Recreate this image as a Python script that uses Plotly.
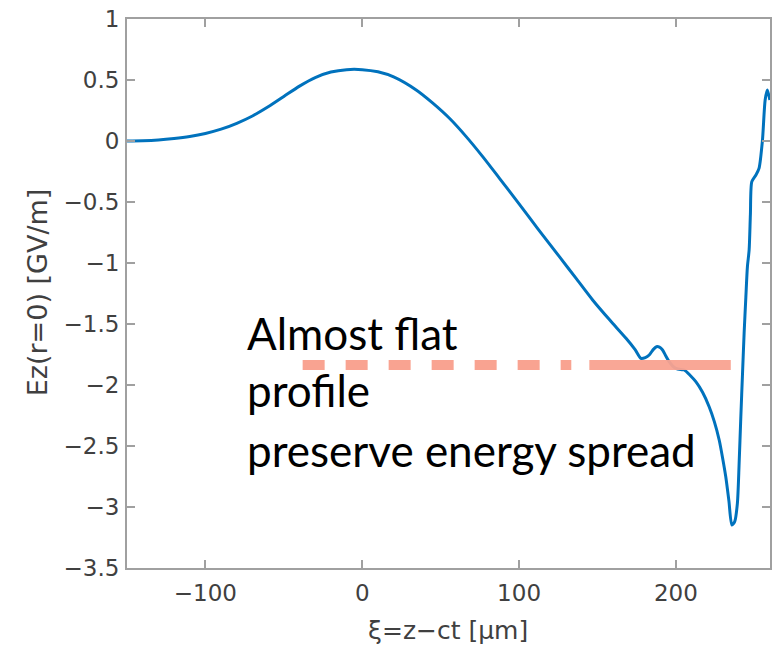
import plotly.graph_objects as go

# Curve Ez(r=0) vs xi
xi_um = [-150, -140, -130, -120, -110, -100, -90, -80, -70, -60, -50, -40, -30, -20, -10,
         0, 10, 20, 34.4, 45, 55.6, 66, 76.8, 87.5, 100, 112, 125.7, 136, 146.9, 158, 168.2,
         174, 177.7, 180.5, 183, 185.5, 187.6, 189.5, 191.5, 193.5, 195.7, 198, 200, 203, 205.3,
         209, 212.7, 217, 221.2, 224.5, 227.6, 229.8, 231.8, 233.8, 235.7, 237.5, 239.2, 240.3,
         241.4, 242.5, 243.5, 244.6, 245.6, 246.7, 247.5, 248.4, 251, 253, 255.2, 256.9, 258.3, 259.9]
ez_gv = [0.0, 0.002, 0.008, 0.02, 0.037, 0.062, 0.097, 0.145, 0.205, 0.28, 0.365, 0.45, 0.52, 0.565, 0.585,
         0.585, 0.567, 0.525, 0.418, 0.31, 0.186, 0.04, -0.128, -0.306, -0.515, -0.72, -0.948, -1.12,
         -1.303, -1.47, -1.617, -1.71, -1.781, -1.775, -1.754, -1.71, -1.686, -1.69, -1.713, -1.76,
         -1.809, -1.845, -1.863, -1.873, -1.877, -1.92, -1.973, -2.06, -2.178, -2.3, -2.451, -2.6,
         -2.752, -2.95, -3.148, -3.12, -2.97, -2.65, -2.26, -1.9, -1.576, -1.28, -1.03, -0.893, -0.6,
         -0.333, -0.279, -0.224, 0.008, 0.336, 0.418, 0.336]

# Annotation line ("almost flat" level)
flat_level = -1.836
flat_dash_x = [-38, 133.3]
flat_solid_x = [144.8, 235]
note_lines = ["Almost flat", "profile", "preserve energy spread"]

x_ticks = [-100, 0, 100, 200]
y_ticks = [1, 0.5, 0, -0.5, -1, -1.5, -2, -2.5, -3, -3.5]

W, H = 776, 647
L, R, T, B = 127, 4, 19, 79
pw, ph = W - L - R, H - T - B

fig = go.Figure()
fig.add_trace(go.Scatter(x=xi_um, y=ez_gv, mode="lines",
                         line=dict(color="#0072BD", width=3, shape="spline", smoothing=0.7),
                         hoverinfo="skip", showlegend=False))

fig.add_trace(go.Scatter(x=flat_dash_x, y=[flat_level] * 2, mode="lines",
                         line=dict(color="#F9A391", width=10, dash="22px,21px"),
                         showlegend=False, hoverinfo="skip"))
fig.add_trace(go.Scatter(x=flat_solid_x, y=[flat_level] * 2, mode="lines",
                         line=dict(color="#F9A391", width=10),
                         opacity=0.95, showlegend=False, hoverinfo="skip"))

axis_font = "DejaVu Sans, sans-serif"
tick_font = dict(family=axis_font, size=23, color="#404040")
axis_common = dict(showgrid=False, zeroline=False, showline=True, linecolor="#a0a0a0",
                   linewidth=2, mirror="ticks", ticks="inside", ticklen=8, tickcolor="#a0a0a0",
                   tickwidth=1.5, tickfont=tick_font)

fig.update_xaxes(range=[-150, 260], tickvals=x_ticks, ticklabelstandoff=3, **axis_common)
fig.update_yaxes(range=[-3.5, 1], tickvals=y_ticks, ticklabelstandoff=1,
                 ticktext=[("%g" % v).replace("-", "\u2212") for v in y_ticks], **axis_common)

note_y = [-1.57, -2.045, -2.53]
for txt, yy in zip(note_lines, note_y):
    fig.add_annotation(x=-74.8, y=yy, xref="x", yref="y", text=txt, showarrow=False,
                       xanchor="left", yanchor="middle",
                       font=dict(family="Lato, Open Sans, sans-serif", size=44, color="#000000"))

fig.add_annotation(x=(37 - L) / pw, y=(H - B - 292) / ph, xref="paper", yref="paper",
                   xanchor="center", yanchor="middle",
                   text="Ez(r=0) [GV/m]", showarrow=False, textangle=-90,
                   font=dict(family=axis_font, size=27, color="#404040"))
fig.add_annotation(x=(449 - L) / pw, y=(H - B - 630) / ph, xref="paper", yref="paper",
                   xanchor="center", yanchor="middle",
                   text="\u03be=z\u2212ct [\u03bcm]", showarrow=False,
                   font=dict(family=axis_font, size=25, color="#404040"))

fig.update_layout(width=W, height=H, margin=dict(l=L, r=R, t=T, b=B),
                  plot_bgcolor="white", paper_bgcolor="white", showlegend=False)

fig.write_html("out.html")
